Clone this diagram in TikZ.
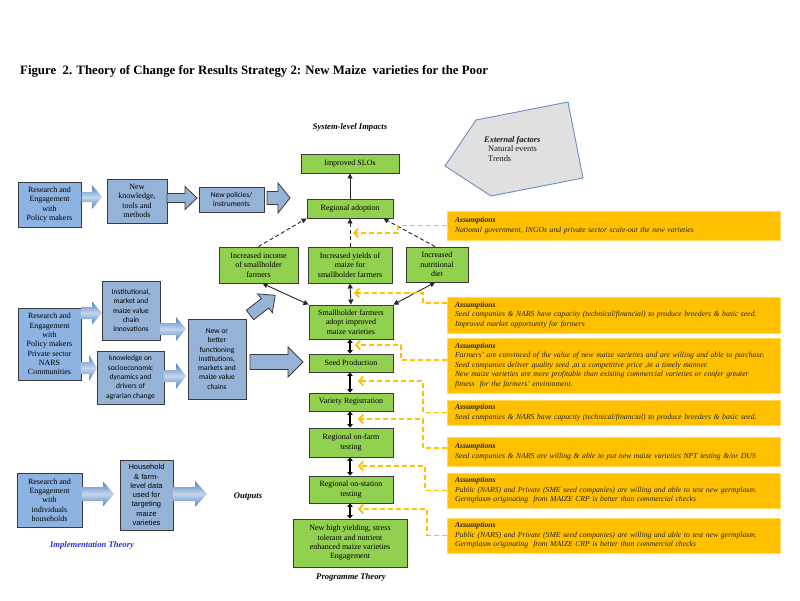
\documentclass[tikz,border=0pt]{standalone}
\usepackage{fontspec}
\setmainfont{Liberation Serif}
\newfontfamily\calib{Carlito}
\newfontfamily\arialf{Liberation Sans}
\usetikzlibrary{arrows.meta}
\definecolor{gfill}{HTML}{92D050}
\definecolor{bfill}{HTML}{95B3D7}
\definecolor{rfill}{HTML}{8DB3E2}
\definecolor{bord}{HTML}{3A3A3A}
\definecolor{ofill}{HTML}{FFC000}
\definecolor{oline}{HTML}{FFD966}
\definecolor{adark}{HTML}{4F81BD}
\definecolor{alight}{HTML}{C5D6EC}
\definecolor{pentb}{HTML}{6C8EBF}
\definecolor{pentf}{HTML}{E0E0E0}
\definecolor{impl}{HTML}{2B2BE8}
\newcommand\blockarr[8]{\path[#1,shift={(#2,#3)},rotate=#8] (0,#5) -- ({#4-#7},#5) -- ({#4-#7},#6) -- (#4,0) -- ({#4-#7},-#6) -- ({#4-#7},-#5) -- (0,-#5) -- cycle;}
\begin{document}
\begin{tikzpicture}[x=1pt,y=-1pt,
 gbox/.style={draw=bord, fill=gfill, line width=0.9pt, align=center, inner sep=1pt, font=\fontsize{8}{9.3}\selectfont, text=black},
 bbox/.style={gbox, fill=bfill},
 rbox/.style={gbox, fill=rfill},
 cbox/.style={bbox, font=\calib\fontsize{7.5}{9.3}\selectfont},
 hbox/.style={bbox, font=\arialf\fontsize{7.5}{9.3}\selectfont},
 abox/.style={fill=ofill, draw=oline, line width=0.8pt, minimum width=333pt, text width=317pt, inner xsep=8pt, inner ysep=1pt, align=left, font=\itshape\fontsize{7.7}{9.5}\selectfont, text=black!85},
 head/.style={font=\bfseries\itshape\fontsize{8.6}{10}\selectfont},
 garrow/.style={top color=adark, bottom color=adark, middle color=alight},
 farrow/.style={fill=bfill, draw=bord, line width=0.8pt},
 dline/.style={draw=black!85, line width=0.9pt, dash pattern=on 4pt off 2.5pt, -{Triangle[length=5pt,width=5pt]}},
 sline/.style={draw=black!85, line width=0.9pt, {Triangle[length=5pt,width=5pt]}-{Triangle[length=5pt,width=5pt]}},
 uline/.style={draw=black!85, line width=0.9pt, -{Triangle[length=5pt,width=5pt]}},
 kline/.style={draw=black, line width=1.2pt, {Triangle[length=3.5pt,width=5.5pt]}-{Triangle[length=3.5pt,width=5.5pt]}},
 odash/.style={draw=ofill, line width=1.8pt, dash pattern=on 5pt off 3pt, -{Straight Barb[length=4pt,width=9pt]}},
]
\path[fill=white, use as bounding box] (0,0) rectangle (800,600);

% title
\node[anchor=west, font=\bfseries\fontsize{12.8}{15}\selectfont, inner sep=0pt] (title) at (20,71) {Figure\ \ 2. Theory of Change for Results Strategy 2: New Maize\ \ varieties for the Poor};

% headings
\node[head] (sysimp) at (350,127) {System-level Impacts};
\node[head] (outp) at (248,497) {Outputs};
\node[head] (progth) at (351,577) {Programme Theory};
\node[head, text=impl] (implth) at (92,545) {Implementation Theory};

% external factors
\draw[fill=pentf, draw=pentb, line width=0.9pt] (445,166) -- (476,120) -- (568,102) -- (583,178) -- (491,196) -- cycle;
\node[anchor=north west, align=left, inner sep=0pt, font=\fontsize{8.4}{9.2}\selectfont, text=black!90] (ext) at (484,136.5) {\textbf{\textit{External factors}}\\\hspace*{4pt}Natural events\\\hspace*{4pt}Trends};

% green column
\node[gbox, minimum width=98pt, minimum height=19pt] (slo) at (350,163.5) {Improved SLOs};
\node[gbox, minimum width=86pt, minimum height=19pt] (radopt) at (350,208.5) {Regional adoption};
\node[gbox, minimum width=79pt, minimum height=36pt] (income) at (258.5,265) {Increased income\\of smallholder\\farmers};
\node[gbox, minimum width=84pt, minimum height=36pt] (yields) at (350,265) {Increased yields of\\maize for\\smallholder farmers};
\node[gbox, minimum width=62pt, minimum height=35pt] (diet) at (437,264.5) {Increased\\nutritional\\diet};
\node[gbox, minimum width=84pt, minimum height=34pt] (adopt) at (351,322) {Smallholder farmers\\adopt improved\\maize varieties};
\node[gbox, minimum width=84pt, minimum height=18pt] (seedprod) at (351,363) {Seed Production};
\node[gbox, minimum width=84pt, minimum height=18pt] (varreg) at (351,402) {Variety Registration};
\node[gbox, minimum width=84pt, minimum height=29pt] (onfarm) at (351,442.5) {Regional on-farm\\testing};
\node[gbox, minimum width=84pt, minimum height=27pt] (onstat) at (351,489.5) {Regional on-station\\testing};
\node[gbox, minimum width=114pt, minimum height=48pt] (newhigh) at (350,543) {New high yielding, stress\\tolerant and nutrient\\enhanced maize varieties\\Engagement};

% blue boxes
\node[rbox, minimum width=63pt, minimum height=45pt] (rep1) at (49.5,204.5) {Research and\\Engagement\\with\\Policy makers};
\node[bbox, minimum width=60pt, minimum height=44pt] (newknow) at (137,201) {New\\knowledge,\\tools and\\methods};
\node[cbox, minimum width=65pt, minimum height=25pt] (newpol) at (231.5,199.5) {New policies/\\instruments};
\node[rbox, minimum width=63pt, minimum height=72pt] (rep2) at (49.5,344) {Research and\\Engagement\\with\\Policy makers\\Private sector\\NARS\\Communities};
\node[cbox, minimum width=58pt, minimum height=59pt] (inst) at (131,310.5) {Institutional,\\market and\\maize value\\chain\\innovations};
\node[cbox, minimum width=67pt, minimum height=53pt] (know) at (130.5,377.5) {knowledge on\\socioeconomic\\dynamics and\\drivers of\\agrarian change};
\node[cbox, minimum width=58pt, minimum height=80pt] (newbetter) at (217,359) {New or\\better\\functioning\\institutions,\\markets and\\maize value\\chains};
\node[rbox, minimum width=65pt, minimum height=54pt] (rep3) at (49.5,500) {Research and\\Engagement\\with\\individuals\\households};
\node[hbox, minimum width=53pt, minimum height=70pt] (household) at (146.5,495) {Household\\\& farm-\\level data\\used for\\targeting\\maize\\varieties};

% block arrows
\blockarr{garrow}{81.5}{197}{20.5}{5}{12}{10}{0}
\blockarr{farrow}{167}{198}{30}{4.5}{11.5}{12}{0}
\blockarr{farrow}{267}{198}{23}{6.5}{15}{12}{0}
\blockarr{garrow}{81.5}{313}{20.5}{6}{11.5}{10}{0}
\blockarr{garrow}{81.5}{368}{15.5}{6}{13}{8}{0}
\blockarr{garrow}{160.5}{329}{25.5}{6}{12}{10}{0}
\blockarr{garrow}{164.5}{376}{21.5}{6}{13}{10}{0}
\blockarr{farrow}{250}{362}{53}{7.5}{15}{15}{0}
\blockarr{farrow}{250}{315}{32}{6}{12}{13}{38}
\blockarr{garrow}{82.5}{494}{31.5}{7}{12.5}{11}{0}
\blockarr{garrow}{173.5}{494}{33.5}{7}{13}{12}{0}

% black connectors
\draw[uline] (radopt.north) -- (slo.south);
\draw[dline] (income.north) -- (radopt.south west);
\draw[dline] (yields.north) -- (radopt.south);
\draw[dline] ([xshift=-2pt]diet.north) -- ([xshift=-10pt]radopt.south east);
\draw[sline] ([xshift=4pt]income.south) -- (adopt.north west);
\draw[sline] (yields.south) -- (adopt.north);
\draw[sline] ([xshift=-2pt]diet.south) -- (adopt.north east);
\draw[kline] ([xshift=-1pt]adopt.south) -- ([xshift=-1pt]seedprod.north);
\draw[kline] ([xshift=-1pt]seedprod.south) -- ([xshift=-1pt]varreg.north);
\draw[kline] ([xshift=-1pt]varreg.south) -- ([xshift=-1pt]onfarm.north);
\draw[kline] ([xshift=-1pt]onfarm.south) -- ([xshift=-1pt]onstat.north);
\draw[kline] ([xshift=-1pt]onstat.south) -- (newhigh.north);

% assumptions
\node[abox, minimum height=29pt] (as1) at (613.5,225.5) {\textbf{Assumptions}\\National government, INGOs and private sector scale-out the new varieties};
\node[abox, minimum height=36pt] (as2) at (613.5,315) {\textbf{Assumptions}\\Seed companies \& NARS have capacity (technical/financial) to produce breeders \& basic seed.\\Improved market opportunity for farmers};
\node[abox, minimum height=55pt] (as3) at (613.5,365.5) {\textbf{Assumptions}\\Farmers' are convinced of the value of new maize varieties and are willing and able to purchase.\\Seed companies deliver quality seed ,at a competitive price ,in a timely manner.\\New maize varieties are more profitable than existing commercial varieties or confer greater\\fitness\ \ for the farmers' environment.};
\node[abox, minimum height=25pt] (as4) at (613.5,412.5) {\textbf{Assumptions}\\Seed companies \& NARS have capacity (technical/financial) to produce breeders \& basic seed.};
\node[abox, minimum height=29pt] (as5) at (613.5,451.5) {\textbf{Assumptions}\\Seed companies \& NARS are willing \& able to put new maize varieties NPT testing \&/or DUS};
\node[abox, minimum height=35pt] (as6) at (613.5,490.5) {\textbf{Assumptions}\\Public (NARS) and Private (SME seed companies) are willing and able to test new germplasm.\\Germplasm originating\ \ from MAIZE CRP is better than commercial checks};
\node[abox, minimum height=35pt] (as7) at (613.5,535.5) {\textbf{Assumptions}\\Public (NARS) and Private (SME seed companies) are willing and able to test new germplasm.\\Germplasm originating\ \ from MAIZE CRP is better than commercial checks};

% orange tips
\coordinate (t1) at (353,233);
\coordinate (t2) at (354,293);
\coordinate (t3) at (355,345);
\coordinate (t4) at (358,381);
\coordinate (t5) at (358,419);
\coordinate (t6) at (358,466);
\coordinate (t7) at (358,509);
\draw[odash] (as1.west) -| ([xshift=45pt]t1) -- (t1);
\draw[odash] ([yshift=12pt]as2.west) -| ([xshift=69pt]t2) -- (t2);
\draw[odash] ([yshift=5.5pt]as3.west) -| ([xshift=46pt]t3) -- (t3);
\draw[odash] (as4.west) -| ([xshift=65pt]t4) -- (t4);
\draw[odash] ([yshift=3.5pt]as5.west) -| ([xshift=65pt]t5) -- (t5);
\draw[odash] (as6.west) -| ([xshift=67pt]t6) -- (t6);
\draw[odash] (as7.west) -| ([xshift=69pt]t7) -- (t7);
\end{tikzpicture}
\end{document}
